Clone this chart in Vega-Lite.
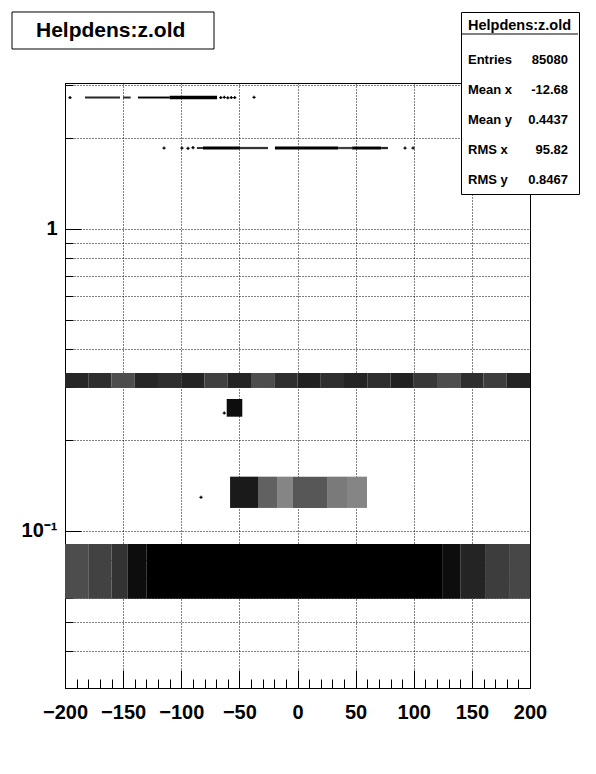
{
  "$schema": "https://vega.github.io/schema/vega-lite/v6.json",
  "width": 465,
  "height": 605,
  "autosize": {"type": "none"},
  "padding": {"left": 65, "top": 83, "right": 66, "bottom": 86},
  "background": "white",
  "config": {"view": {"stroke": "black", "strokeWidth": 1}},
  "datasets": {
    "cells": [
      {"x": -182.8, "x2": -152.7, "y": 2.705, "y2": 2.745, "d": 0.85},
      {"x": -150, "x2": -143.5, "y": 2.705, "y2": 2.745, "d": 0.85},
      {"x": -137.2, "x2": -110, "y": 2.705, "y2": 2.745, "d": 1},
      {"x": -110, "x2": -69.2, "y": 2.69, "y2": 2.76, "d": 1},
      {"x": -86.5, "x2": -81.3, "y": 1.84, "y2": 1.868, "d": 0.8},
      {"x": -81.3, "x2": -49.5, "y": 1.833, "y2": 1.875, "d": 1},
      {"x": -49.5, "x2": -25.4, "y": 1.838, "y2": 1.87, "d": 0.8},
      {"x": -19.4, "x2": 35, "y": 1.833, "y2": 1.875, "d": 1},
      {"x": 35, "x2": 47, "y": 1.838, "y2": 1.87, "d": 0.75},
      {"x": 47, "x2": 72, "y": 1.833, "y2": 1.875, "d": 1},
      {"x": 72, "x2": 77.8, "y": 1.838, "y2": 1.87, "d": 0.85},
      {"x": -200, "x2": -180, "y": 0.2976, "y2": 0.3335, "d": 0.85},
      {"x": -180, "x2": -160, "y": 0.2976, "y2": 0.3335, "d": 0.82},
      {"x": -160, "x2": -140, "y": 0.2976, "y2": 0.3335, "d": 0.7},
      {"x": -140, "x2": -120, "y": 0.2976, "y2": 0.3335, "d": 0.85},
      {"x": -120, "x2": -100, "y": 0.2976, "y2": 0.3335, "d": 0.82},
      {"x": -100, "x2": -80, "y": 0.2976, "y2": 0.3335, "d": 0.86},
      {"x": -80, "x2": -60, "y": 0.2976, "y2": 0.3335, "d": 0.75},
      {"x": -60, "x2": -40, "y": 0.2976, "y2": 0.3335, "d": 0.86},
      {"x": -40, "x2": -20, "y": 0.2976, "y2": 0.3335, "d": 0.7},
      {"x": -20, "x2": 0, "y": 0.2976, "y2": 0.3335, "d": 0.82},
      {"x": 0, "x2": 20, "y": 0.2976, "y2": 0.3335, "d": 0.87},
      {"x": 20, "x2": 40, "y": 0.2976, "y2": 0.3335, "d": 0.82},
      {"x": 40, "x2": 60, "y": 0.2976, "y2": 0.3335, "d": 0.86},
      {"x": 60, "x2": 80, "y": 0.2976, "y2": 0.3335, "d": 0.82},
      {"x": 80, "x2": 100, "y": 0.2976, "y2": 0.3335, "d": 0.87},
      {"x": 100, "x2": 120, "y": 0.2976, "y2": 0.3335, "d": 0.78},
      {"x": 120, "x2": 140, "y": 0.2976, "y2": 0.3335, "d": 0.7},
      {"x": 140, "x2": 160, "y": 0.2976, "y2": 0.3335, "d": 0.82},
      {"x": 160, "x2": 180, "y": 0.2976, "y2": 0.3335, "d": 0.76},
      {"x": 180, "x2": 200, "y": 0.2976, "y2": 0.3335, "d": 0.86},
      {"x": -60.9, "x2": -47.5, "y": 0.239, "y2": 0.2735, "d": 0.95},
      {"x": -58, "x2": -34, "y": 0.1192, "y2": 0.1513, "d": 0.9},
      {"x": -34, "x2": -17.6, "y": 0.1192, "y2": 0.1513, "d": 0.62},
      {"x": -17.6, "x2": -3.9, "y": 0.1192, "y2": 0.1513, "d": 0.48},
      {"x": -3.9, "x2": 25.4, "y": 0.1192, "y2": 0.1513, "d": 0.66},
      {"x": 25.4, "x2": 42.6, "y": 0.1192, "y2": 0.1513, "d": 0.52},
      {"x": 42.6, "x2": 59.8, "y": 0.1192, "y2": 0.1513, "d": 0.48},
      {"x": -200, "x2": -180, "y": 0.0596, "y2": 0.0906, "d": 0.7},
      {"x": -180, "x2": -160, "y": 0.0596, "y2": 0.0906, "d": 0.74},
      {"x": -160, "x2": -146, "y": 0.0596, "y2": 0.0906, "d": 0.8},
      {"x": -146, "x2": -130, "y": 0.0596, "y2": 0.0906, "d": 0.95},
      {"x": -130, "x2": 125, "y": 0.0596, "y2": 0.0906, "d": 1},
      {"x": 125, "x2": 140, "y": 0.0596, "y2": 0.0906, "d": 0.95},
      {"x": 140, "x2": 162, "y": 0.0596, "y2": 0.0906, "d": 0.86},
      {"x": 162, "x2": 182, "y": 0.0596, "y2": 0.0906, "d": 0.76},
      {"x": 182, "x2": 200, "y": 0.0596, "y2": 0.0906, "d": 0.72}
    ],
    "pts": [
      {"x": -195.7, "y": 2.725},
      {"x": -66, "y": 2.725},
      {"x": -63, "y": 2.73},
      {"x": -60, "y": 2.72},
      {"x": -57, "y": 2.725},
      {"x": -54, "y": 2.725},
      {"x": -37.4, "y": 2.73},
      {"x": -114.8, "y": 1.854},
      {"x": -99.4, "y": 1.854},
      {"x": -94.2, "y": 1.85},
      {"x": -89.9, "y": 1.86},
      {"x": 92.5, "y": 1.854},
      {"x": 99.4, "y": 1.854},
      {"x": -63, "y": 0.2458},
      {"x": -83, "y": 0.1293}
    ],
    "titlebox": [{"t": "Helpdens:z.old"}],
    "hdr": [{"h": "header"}],
    "stats": [
      {"stat": "Entries", "val": "85080"},
      {"stat": "Mean x", "val": "-12.68"},
      {"stat": "Mean y", "val": "0.4437"},
      {"stat": "RMS x", "val": "95.82"},
      {"stat": "RMS y", "val": "0.8467"}
    ]
  },
  "layer": [
    {
      "data": {"name": "cells"},
      "mark": {"type": "rect"},
      "encoding": {
        "x": {
          "field": "x", "type": "quantitative",
          "scale": {"domain": [-200, 200], "nice": false, "zero": false},
          "axis": {
            "title": null,
            "values": [-200,-190,-180,-170,-160,-150,-140,-130,-120,-110,-100,-90,-80,-70,-60,-50,-40,-30,-20,-10,0,10,20,30,40,50,60,70,80,90,100,110,120,130,140,150,160,170,180,190,200],
            "tickCount": 200,
            "labelExpr": "datum.value % 50 == 0 ? datum.label : ''",
            "grid": true,
            "gridColor": "black",
            "gridDash": [1, 2],
            "gridWidth": 1,
            "gridOpacity": {"condition": {"test": "datum.value % 50 == 0", "value": 1}, "value": 0},
            "tickSize": {"condition": {"test": "datum.value % 50 == 0", "value": -18}, "value": -9},
            "tickColor": "black",
            "domainColor": "black",
            "labelFont": "Liberation Sans",
            "labelFontWeight": "bold",
            "labelFontSize": 20,
            "labelColor": "black",
            "labelPadding": 32,
            "labelFlush": false,
            "labelOverlap": false,
            "labelBound": false
          }
        },
        "x2": {"field": "x2"},
        "y": {
          "field": "y", "type": "quantitative",
          "scale": {"type": "log", "domain": [0.0302, 3.044], "nice": false, "zero": false},
          "axis": {
            "title": null,
            "values": [0.04,0.05,0.06,0.07,0.08,0.09,0.1,0.2,0.3,0.4,0.5,0.6,0.7,0.8,0.9,1,2,3],
            "tickCount": 200,
            "labelExpr": "datum.value == 1 ? '1' : (abs(datum.value - 0.1) < 1e-6 ? '10\u207b\u00b9' : '')",
            "grid": true,
            "gridColor": "black",
            "gridDash": [1, 2],
            "gridWidth": 1,
            "tickSize": {"condition": {"test": "datum.value == 1 || abs(datum.value - 0.1) < 1e-6", "value": -16}, "value": -8},
            "tickColor": "black",
            "domainColor": "black",
            "labelFont": "Liberation Sans",
            "labelFontWeight": "bold",
            "labelFontSize": 20,
            "labelColor": "black",
            "labelPadding": 24,
            "labelFlush": false,
            "labelOverlap": false,
            "labelBound": false
          }
        },
        "y2": {"field": "y2"},
        "color": {"field": "d", "type": "quantitative", "scale": {"domain": [0, 1], "range": ["white", "black"], "interpolate": "rgb"}, "legend": null}
      }
    },
    {
      "data": {"name": "pts"},
      "mark": {"type": "point", "shape": "cross", "filled": true, "size": 10, "color": "black", "opacity": 1},
      "encoding": {
        "x": {"field": "x", "type": "quantitative"},
        "y": {"field": "y", "type": "quantitative"}
      }
    },
    {
      "data": {"name": "titlebox"},
      "mark": {"type": "point", "opacity": 0, "color": "black", "filled": false},
      "encoding": {
        "shape": {
          "field": "t", "type": "nominal",
          "scale": {"range": ["M-1,-0.1832H1V0.1832H-1Z"]},
          "legend": {
            "orient": "none", "legendX": -53.5, "legendY": -154,
            "title": null,
            "labelFont": "Liberation Sans", "labelFontWeight": "bold", "labelFontSize": 21, "labelColor": "black",
            "labelOffset": -178.5, "labelLimit": 600,
            "symbolSize": 40804, "symbolOpacity": 1, "symbolStrokeWidth": 1,
            "symbolStrokeColor": "black", "symbolFillColor": "white",
            "padding": 0
          }
        }
      }
    },
    {
      "data": {"name": "stats"},
      "mark": {"type": "point", "opacity": 0},
      "encoding": {
        "fill": {
          "field": "stat", "type": "nominal",
          "sort": ["Entries", "Mean x", "Mean y", "RMS x", "RMS y"],
          "legend": {
            "orient": "none", "legendX": 396, "legendY": -71, "zindex": 1,
            "title": "Helpdens:z.old",
            "titleFont": "Liberation Sans", "titleFontWeight": "bold", "titleFontSize": 14.5, "titleColor": "black",
            "titlePadding": 20,
            "labelFont": "Liberation Sans", "labelFontWeight": "bold", "labelFontSize": 13, "labelColor": "black",
            "labelOffset": -13, "labelLimit": 600,
            "symbolSize": 0, "symbolOpacity": 0, "symbolStrokeWidth": 0,
            "rowPadding": 16,
            "padding": 7, "strokeColor": "black", "fillColor": "white"
          }
        },
        "stroke": {
          "field": "val", "type": "nominal",
          "sort": ["85080", "-12.68", "0.4437", "95.82", "0.8467"],
          "legend": {
            "orient": "none", "legendX": 490, "legendY": -30, "zindex": 3,
            "title": null,
            "labelFont": "Liberation Sans", "labelFontWeight": "bold", "labelFontSize": 13, "labelColor": "black",
            "labelAlign": "right",
            "labelOffset": 0, "labelLimit": 600,
            "symbolSize": 0, "symbolOpacity": 0, "symbolStrokeWidth": 0,
            "rowPadding": 16,
            "padding": 0
          }
        }
      }
    },
    {
      "data": {"name": "hdr"},
      "mark": {"type": "point", "opacity": 0, "color": "black"},
      "encoding": {
        "strokeDash": {
          "field": "h", "type": "nominal",
          "legend": {
            "orient": "none", "legendX": 395.5, "legendY": -108, "zindex": 2,
            "title": null,
            "labelExpr": "''",
            "labelFontSize": 1,
            "symbolType": "M-1,0H1",
            "symbolSize": 13689, "symbolOpacity": 1, "symbolStrokeWidth": 1,
            "symbolStrokeColor": "black",
            "padding": 0
          }
        }
      }
    }
  ]
}
